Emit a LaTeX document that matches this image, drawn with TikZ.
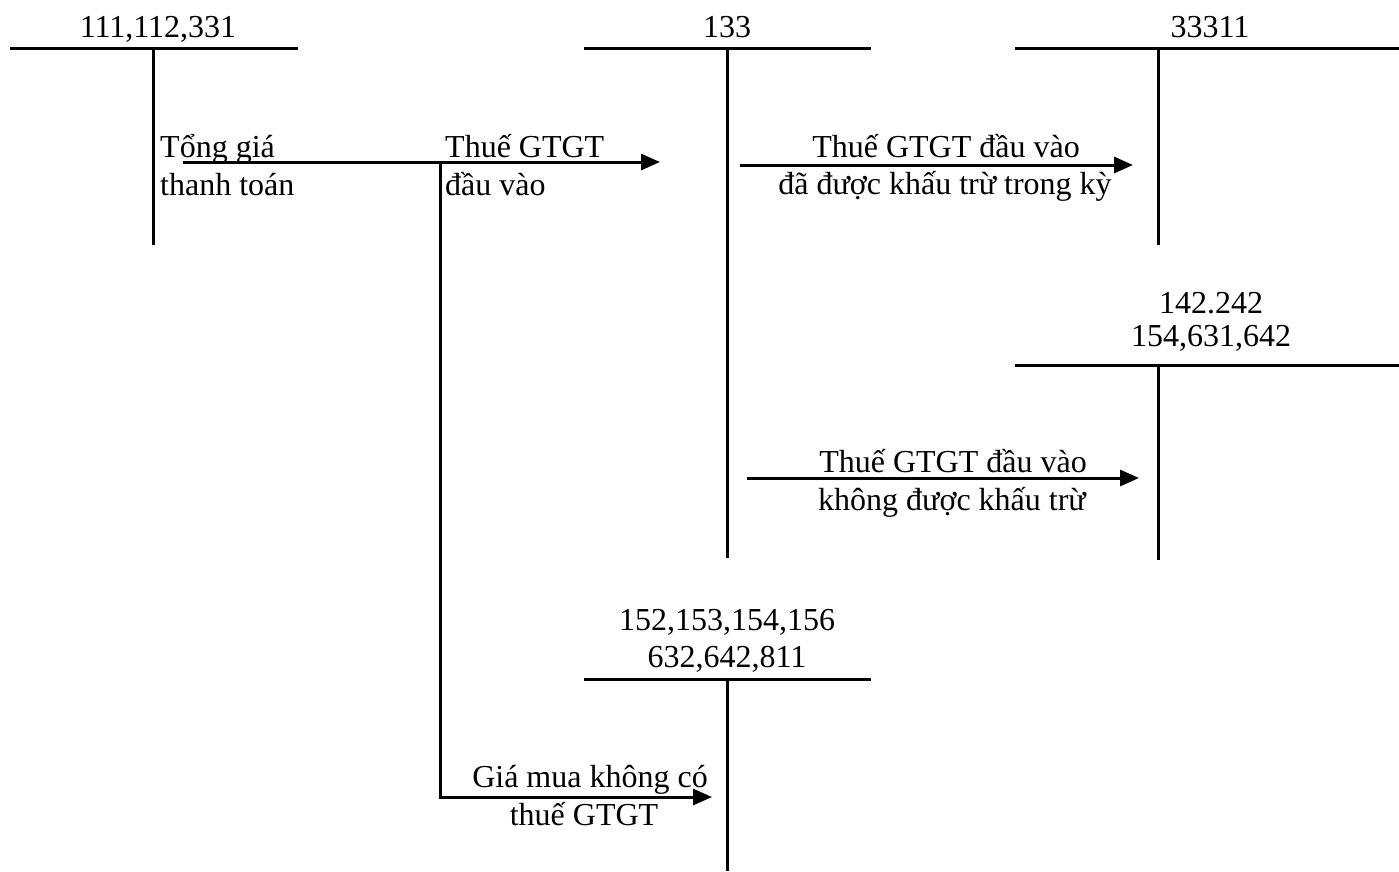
\documentclass[tikz,border=0pt]{standalone}
\usepackage{fontspec}
\setmainfont{Liberation Serif}
\usetikzlibrary{arrows.meta}
\begin{document}
\begin{tikzpicture}[x=1pt,y=-1pt,
  acct/.style={line width=3pt},
  flow/.style={line width=3pt,-{Triangle[length=19pt,width=16pt]}},
  lbl/.style={inner sep=0pt,anchor=base,font=\fontsize{32}{37}\selectfont},
  lbll/.style={inner sep=0pt,anchor=base west,font=\fontsize{32}{37}\selectfont}]
\useasboundingbox (0,0) rectangle (1399,871);
% T-accounts
\coordinate (t1l) at (10,48); \coordinate (t1r) at (298,48);
\coordinate (t1t) at (153,48); \coordinate (t1b) at (153,245);
\coordinate (t2l) at (584,48); \coordinate (t2r) at (871,48);
\coordinate (t2t) at (727,48); \coordinate (t2b) at (727,558);
\coordinate (t3l) at (1015,48); \coordinate (t3r) at (1399,48);
\coordinate (t3t) at (1158,48); \coordinate (t3b) at (1158,245);
\coordinate (t4l) at (1015,365); \coordinate (t4r) at (1399,365);
\coordinate (t4t) at (1158,365); \coordinate (t4b) at (1158,560);
\coordinate (t5l) at (584,679); \coordinate (t5r) at (871,679);
\coordinate (t5t) at (727,679); \coordinate (t5b) at (727,871);
\draw[acct] (t1l) -- (t1r); \draw[acct] (t1t) -- (t1b);
\draw[acct] (t2l) -- (t2r); \draw[acct] (t2t) -- (t2b);
\draw[acct] (t3l) -- (t3r); \draw[acct] (t3t) -- (t3b);
\draw[acct] (t4l) -- (t4r); \draw[acct] (t4t) -- (t4b);
\draw[acct] (t5l) -- (t5r); \draw[acct] (t5t) -- (t5b);
% account labels
\node[lbl] (n1) at (158,37) {111,112,331};
\node[lbl] (n2) at (727,37) {133};
\node[lbl] (n3) at (1210,37) {33311};
\node[lbl] (n4a) at (1211,313) {142.242};
\node[lbl] (n4b) at (1211,346) {154,631,642};
\node[lbl] (n5a) at (727,630) {152,153,154,156};
\node[lbl] (n5b) at (727,667) {632,642,811};
% flows
\coordinate (a1s) at (183,162); \coordinate (a1e) at (660,162);
\coordinate (brs) at (440,162); \coordinate (brc) at (440,797); \coordinate (a2e) at (712,797);
\coordinate (a3s) at (740,165); \coordinate (a3e) at (1133,165);
\coordinate (a4s) at (747,478); \coordinate (a4e) at (1139,478);
\draw[flow] (a1s) -- (a1e);
\draw[flow] (brs) -- (brc) -- (a2e);
\draw[flow] (a3s) -- (a3e);
\draw[flow] (a4s) -- (a4e);
% flow labels
\node[lbll] (f1a) at (160,157) {Tổng giá};
\node[lbll] (f1b) at (160,195) {thanh toán};
\node[lbll] (f2a) at (445,157) {Thuế GTGT};
\node[lbll] (f2b) at (445,195) {đầu vào};
\node[lbl] (f3a) at (946,157) {Thuế GTGT đầu vào};
\node[lbl] (f3b) at (945,194) {đã được khấu trừ trong kỳ};
\node[lbl] (f4a) at (953,472) {Thuế GTGT đầu vào};
\node[lbl] (f4b) at (952,510) {không được khấu trừ};
\node[lbl] (f5a) at (590,787) {Giá mua không có};
\node[lbl] (f5b) at (584,825) {thuế GTGT};
\end{tikzpicture}
\end{document}
